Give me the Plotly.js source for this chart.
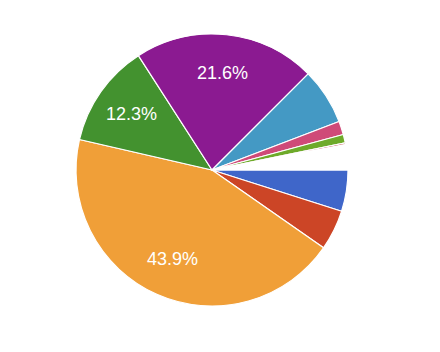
<!DOCTYPE html>
<html>
<head>
<meta charset="utf-8">
<script src="https://cdn.plot.ly/plotly-3.0.1.min.js"></script>
<style>html,body{margin:0;padding:0;background:#fff;}#chart{width:440px;height:352px;}</style>
</head>
<body>
<div id="chart"></div>
<script>
const categories = ['A','B','C','D','E','F','G','H','I','J'];
const values = [4.9, 4.8, 43.9, 12.3, 21.6, 6.7, 1.6, 1.0, 0.2, 3.0];
const colors = ['#3f66c9','#cc4526','#f09f38','#43922f','#8b1a91','#4499c4','#cf4a78','#6eaa2a','#b83a3a','#ffffff'];
const labelMin = 10;      // only slices at least this share (%) get a label
const labelRadius = 0.72; // label distance from centre, as fraction of radius
const startAngle = 0;     // degrees clockwise from 3 o'clock

const total = values.reduce((a,b)=>a+b,0);

// Labels placed on each slice's mid-angle (computed from the data)
const annotations = [];
let cum = 0;
values.forEach((v, i) => {
  const share = v / total;
  const mid = (startAngle + (cum + share / 2) * 360) * Math.PI / 180;
  cum += share;
  if (share * 100 >= labelMin) {
    annotations.push({
      xref: 'paper', yref: 'paper',
      x: 0.5 + 0.5 * labelRadius * Math.cos(mid),
      y: 0.5 - 0.5 * labelRadius * Math.sin(mid),
      text: (share * 100).toFixed(1) + '%',
      showarrow: false,
      xanchor: 'center', yanchor: 'middle',
      font: {family: 'Arial, Liberation Sans, sans-serif', size: 18, color: '#ffffff'}
    });
  }
});

Plotly.newPlot('chart', [{
  type: 'pie',
  labels: categories,
  values: values,
  sort: false,
  direction: 'clockwise',
  rotation: 90 + startAngle,
  marker: {colors: colors, line: {color: '#ffffff', width: 1.2}},
  textinfo: 'none',
  hoverinfo: 'none',
  showlegend: false
}], {
  width: 440, height: 352,
  margin: {l: 76, r: 92, t: 34, b: 46},
  paper_bgcolor: '#ffffff',
  plot_bgcolor: '#ffffff',
  showlegend: false,
  annotations: annotations
}, {displayModeBar: false, staticPlot: true});
</script>
</body>
</html>
